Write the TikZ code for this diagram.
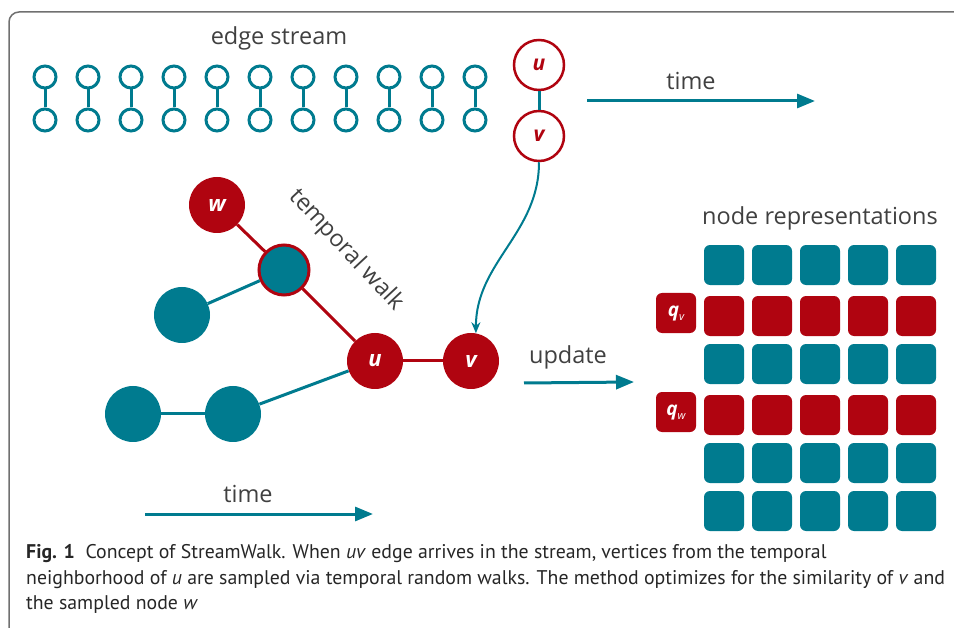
\documentclass[tikz,border=0pt]{standalone}
\usepackage{fontspec}
\setmainfont{Open Sans}
\newfontfamily\capfont{PT Sans}
\usepackage{xcolor}
\usepackage{tikz}
\usetikzlibrary{matrix,arrows.meta}

\definecolor{swteal}{RGB}{0,123,143}
\definecolor{swred}{RGB}{176,4,16}
\definecolor{swtext}{RGB}{64,64,64}
\definecolor{swframe}{RGB}{112,112,112}

\newcommand{\qlabel}[1]{\textbf{\textit{q}}\raisebox{-4pt}{\fontsize{11}{11}\selectfont\itshape #1}}

\tikzset{
	streamnode/.style={circle, draw=swteal, line width=3, fill=white, minimum size=22, inner sep=0},
	edgenode/.style={circle, draw=swred, line width=2.5, fill=white, minimum size=50, inner sep=0, text=swred, font=\fontsize{21}{21}\selectfont\bfseries\itshape},
	graphnode/.style={circle, fill=swteal, minimum size=56, inner sep=0},
	walknode/.style={circle, fill=swred, minimum size=56, inner sep=0, text=white, font=\fontsize{22}{22}\selectfont\bfseries\itshape},
	tealedge/.style={draw=swteal, line width=3},
	rededge/.style={draw=swred, line width=3},
	timearrow/.style={draw=swteal, line width=3, -{Triangle[length=18,width=14]}},
	plaintext/.style={text=swtext, font=\fontsize{23.5}{23.5}\selectfont},
	captext/.style={anchor=base west, inner sep=0, text=black!85, font=\capfont\fontsize{19.8}{19.8}\selectfont},
	repcell/.style={rectangle, rounded corners=6, fill=swteal, minimum size=40, inner sep=0, text=white, font=\fontsize{19}{19}\selectfont},
	redcell/.style={fill=swred},
	blankcell/.style={fill=none}
}

\begin{document}
\begin{tikzpicture}[x=1pt, y=-1pt]
	\useasboundingbox (0,0) rectangle (954,628);
	\draw[swframe, line width=1.5, rounded corners=10] (980,12) -- (9,12) -- (9,660);

	% edge stream
	\node[plaintext] (streamtitle) at (279,38) {edge stream};
	\foreach \i in {0,...,10}{
		\node[streamnode] (s\i t) at (45+43*\i,77) {};
		\node[streamnode] (s\i b) at (45+43*\i,120) {};
		\draw[tealedge] (s\i t) -- (s\i b);
	}
	\node[edgenode] (eu) at (539,65) {u};
	\node[edgenode] (ev) at (539,136) {v};
	\draw[tealedge] (eu) -- (ev);

	\node[plaintext] (toptime) at (691,81) {time};
	\coordinate (tts) at (587,101);
	\coordinate (tte) at (815,101);
	\draw[timearrow] (tts) -- (tte);

	% graph with the temporal walk
	\node[walknode] (w) at (217,205) {w};
	\node[graphnode, draw=swred, line width=3, minimum size=50] (b) at (284,270) {};
	\node[graphnode] (l) at (182,315) {};
	\node[walknode] (u) at (375,361) {u};
	\node[walknode] (v) at (471,361) {v};
	\node[graphnode] (bl) at (133,414) {};
	\node[graphnode] (bm) at (233,414) {};
	\draw[tealedge] (b) -- (l);
	\draw[tealedge] (u) -- (bm);
	\draw[tealedge] (bl) -- (bm);
	\draw[rededge] (w) -- (b);
	\draw[rededge] (b) -- (u);
	\draw[rededge] (u) -- (v);
	\node[plaintext, rotate=-47] (walktext) at (346,250) {temporal walk};

	\draw[draw=swteal, line width=2, -{Stealth[length=11,width=9]}] (ev) to[out=-90, in=90] (v.80);

	\node[plaintext] (updtext) at (568,357) {update};
	\coordinate (ups) at (524,383);
	\coordinate (upe) at (634,382);
	\draw[timearrow] (ups) -- (upe);

	\node[plaintext] (bottime) at (248,494) {time};
	\coordinate (bts) at (145,514);
	\coordinate (bte) at (373,514);
	\draw[timearrow] (bts) -- (bte);

	% node representations
	\node[plaintext] (reptitle) at (820,218) {node representations};
	\matrix (reps) [matrix of nodes, nodes in empty cells, nodes={repcell}, column sep=8, row sep=8] at (796,388) {
		|[blankcell]| & & & & & \\
		|[redcell]| \qlabel{v} & |[redcell]| & |[redcell]| & |[redcell]| & |[redcell]| & |[redcell]| \\
		|[blankcell]| & & & & & \\
		|[redcell]| \qlabel{w} & |[redcell]| & |[redcell]| & |[redcell]| & |[redcell]| & |[redcell]| \\
		|[blankcell]| & & & & & \\
		|[blankcell]| & & & & & \\
	};

	% caption
	\node[captext] (cap1) at (26,558) {\textbf{Fig. 1}\ \ Concept of StreamWalk. When \textit{uv} edge arrives in the stream, vertices from the temporal};
	\node[captext] (cap2) at (26,584) {neighborhood of \textit{u} are sampled via temporal random walks. The method optimizes for the similarity of \textit{v} and};
	\node[captext] (cap3) at (26,609) {the sampled node \textit{w}};
\end{tikzpicture}
\end{document}
